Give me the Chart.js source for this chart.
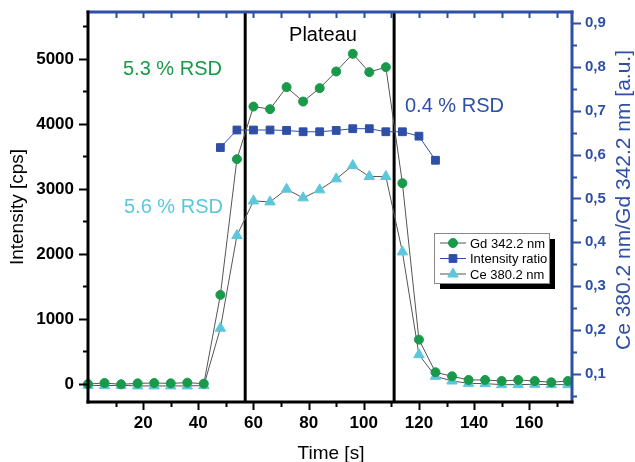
<!DOCTYPE html>
<html><head><meta charset="utf-8">
<script src="https://cdn.jsdelivr.net/npm/chart.js@4/dist/chart.umd.min.js"></script>
<style>html,body{margin:0;padding:0;background:#fff}#wrap{width:635px;height:462px}</style>
</head><body><div id="wrap"><canvas id="c" width="635" height="462"></canvas></div>
<script>
const times = [0,6,12,18,24,30,36,42,48,54,60,66,72,78,84,90,96,102,108,114,120,126,132,138,144,150,156,162,168,174];
const gdValues = [0,15,-5,10,15,10,20,5,1370,3457,4266,4226,4565,4343,4549,4805,5077,4795,4872,3088,682,180,118,62,62,46,62,46,26,46];
const ceValues = [-20,-25,-20,-30,-30,-30,-30,-25,857,2282,2815,2800,2995,2862,2985,3154,3358,3190,3190,2031,451,118,46,10,5,-10,-10,-5,-10,-10];
const ratioTimes = [48,54,60,66,72,78,84,90,96,102,108,114,120,126];
const ratioValues = [0.616,0.656,0.656,0.656,0.655,0.652,0.652,0.655,0.659,0.659,0.652,0.652,0.642,0.587];
const xTicks = [20,40,60,80,100,120,140,160];
const yTicks = [0,1000,2000,3000,4000,5000];
const y2Ticks = [0.1,0.2,0.3,0.4,0.5,0.6,0.7,0.8,0.9];
const plateauBounds = [57,111];
const seriesNames = ['Gd 342.2 nm','Intensity ratio','Ce 380.2 nm'];

const GREEN = '#189a4a', CYAN = '#5cc7db', BLUE = '#2f4fa6', LINE = '#555555';
const FONT = '"Liberation Sans", Arial, sans-serif';

const pts = (xs, ys) => xs.map((x, i) => ({x, y: ys[i]}));

const overlay = {
  id: 'overlay',
  beforeDatasetsDraw(chart) {
    const {ctx, chartArea: a, scales: {x}} = chart;
    ctx.save();
    ctx.strokeStyle = '#000'; ctx.lineWidth = 3;
    plateauBounds.forEach(t => {
      const px = x.getPixelForValue(t);
      ctx.beginPath(); ctx.moveTo(px, a.top); ctx.lineTo(px, a.bottom); ctx.stroke();
    });
    ctx.restore();
  },
  afterDraw(chart) {
    const {ctx, chartArea: a, scales: {x, y, y2}} = chart;
    ctx.save();
    const tick = (x1, y1, x2, y2_, col, w) => { ctx.strokeStyle = col; ctx.lineWidth = w; ctx.beginPath(); ctx.moveTo(x1, y1); ctx.lineTo(x2, y2_); ctx.stroke(); };
    for (let v = 10; v < x.max; v += 10) {
      const px = Math.round(x.getPixelForValue(v)) + 0.5;
      const major = v % 20 === 0;
      tick(px, a.bottom, px, a.bottom + (major ? 8 : 5), '#000', 2);
      tick(px, a.top, px, a.top + 6, BLUE, 2);
    }
    for (let v = 0; v <= y.max; v += 500) {
      const py = Math.round(y.getPixelForValue(v)) + 0.5;
      tick(a.left, py, a.left - (v % 1000 === 0 ? 9 : 5), py, '#000', 2);
    }
    for (let v = 0.05; v <= y2.max; v += 0.05) {
      const py = Math.round(y2.getPixelForValue(v)) + 0.5;
      const major = Math.abs(Math.round(v * 20) % 2) === 0;
      tick(a.right, py, a.right + (major ? 9 : 5), py, BLUE, 2);
    }
    ctx.lineCap = 'square';
    tick(a.left, a.top, a.right, a.top, BLUE, 3);
    tick(a.right, a.top, a.right, a.bottom, BLUE, 3);
    tick(a.left, a.bottom, a.right, a.bottom, '#000', 3);
    tick(a.left, a.top, a.left, a.bottom, '#000', 3);
    ctx.lineCap = 'butt';

    ctx.textAlign = 'center'; ctx.textBaseline = 'middle';
    ctx.fillStyle = '#000';
    ctx.font = '19px ' + FONT;
    ctx.fillText('Time [s]', (a.left + a.right) / 2 + 1, 454);
    ctx.save(); ctx.translate(18, 207); ctx.rotate(-Math.PI / 2);
    ctx.fillText('Intensity [cps]', 0, 0); ctx.restore();
    ctx.save(); ctx.translate(624, 200); ctx.rotate(-Math.PI / 2);
    ctx.fillStyle = BLUE; ctx.font = '21px ' + FONT;
    ctx.fillText('Ce 380.2 nm/Gd 342.2 nm [a.u.]', 0, 0); ctx.restore();

    ctx.font = '20px ' + FONT;
    ctx.fillStyle = '#000'; ctx.fillText('Plateau', 323, 35);
    ctx.textAlign = 'left';
    ctx.fillStyle = GREEN; ctx.fillText('5.3 % RSD', 123, 69);
    ctx.fillStyle = CYAN; ctx.fillText('5.6 % RSD', 124, 207);
    ctx.fillStyle = BLUE; ctx.fillText('0.4 % RSD', 405, 106);

    const lx = 434, ly = 233, lw = 115, lh = 50;
    ctx.fillStyle = '#000'; ctx.fillRect(lx + 6, ly + 6, lw, lh);
    ctx.fillStyle = '#fff'; ctx.fillRect(lx, ly, lw, lh);
    ctx.strokeStyle = '#888'; ctx.lineWidth = 1; ctx.strokeRect(lx + 0.5, ly + 0.5, lw, lh);
    const ds = chart.data.datasets;
    ctx.font = '13px ' + FONT; ctx.textBaseline = 'middle';
    [0, 1, 2].forEach((k, i) => {
      const d = ds[k];
      const cy = ly + 10 + i * 15.5;
      ctx.strokeStyle = d.borderColor; ctx.lineWidth = 1;
      ctx.beginPath(); ctx.moveTo(lx + 6, cy); ctx.lineTo(lx + 32, cy); ctx.stroke();
      ctx.fillStyle = d.pointBackgroundColor; ctx.strokeStyle = d.pointBorderColor;
      Chart.helpers.drawPoint(ctx, {pointStyle: d.pointStyle, radius: d.pointRadius, borderWidth: 1, rotation: 0}, lx + 19, cy);
      ctx.fillStyle = '#000';
      ctx.fillText(seriesNames[k], lx + 36, cy + 1);
    });
    ctx.restore();
  }
};

const noPadV = s => { s.paddingTop = 0; s.paddingBottom = 0; };

new Chart(document.getElementById('c'), {
  type: 'line',
  data: {
    datasets: [
      {label: seriesNames[0], data: pts(times, gdValues), yAxisID: 'y', borderColor: LINE, borderWidth: 1,
       pointStyle: 'circle', pointRadius: 4.5, pointBackgroundColor: GREEN, pointBorderColor: GREEN, pointBorderWidth: 1, clip: false},
      {label: seriesNames[1], data: pts(ratioTimes, ratioValues), yAxisID: 'y2', borderColor: BLUE, borderWidth: 1,
       pointStyle: 'rect', pointRadius: 5.5, pointBackgroundColor: BLUE, pointBorderColor: BLUE, pointBorderWidth: 1, clip: false},
      {label: seriesNames[2], data: pts(times, ceValues), yAxisID: 'y', borderColor: LINE, borderWidth: 1,
       pointStyle: 'triangle', pointRadius: 6, pointBackgroundColor: CYAN, pointBorderColor: CYAN, pointBorderWidth: 1, clip: false}
    ]
  },
  options: {
    responsive: false, animation: false,
    layout: {padding: {top: 12, left: 0, right: 0, bottom: 0}},
    plugins: {legend: {display: false}, tooltip: {enabled: false}},
    scales: {
      x: {type: 'linear', position: 'bottom', min: 0, max: 175.5,
          grid: {display: false, drawTicks: false}, border: {display: false},
          afterBuildTicks: s => { s.ticks = xTicks.map(v => ({value: v})); },
          afterFit: s => { s.height = 60; s.paddingLeft = 0; s.paddingRight = 0; },
          ticks: {padding: 11, color: '#000', font: {family: FONT, size: 17, weight: 'bold'}, maxRotation: 0,
                  callback: v => String(v)}},
      y: {type: 'linear', position: 'left', min: -277, max: 5720,
          grid: {display: false, drawTicks: false}, border: {display: false},
          afterBuildTicks: s => { s.ticks = yTicks.map(v => ({value: v})); },
          afterFit: s => { s.width = 88; noPadV(s); },
          ticks: {padding: 14, color: '#000', font: {family: FONT, size: 17, weight: 'bold'},
                  callback: v => String(v)}},
      y2: {type: 'linear', position: 'right', min: 0.036, max: 0.925,
          grid: {display: false, drawTicks: false}, border: {display: false},
          afterBuildTicks: s => { s.ticks = y2Ticks.map(v => ({value: v})); },
          afterFit: s => { s.width = 63; noPadV(s); },
          ticks: {padding: 13, color: BLUE, font: {family: FONT, size: 15, weight: 'bold'},
                  callback: v => v.toFixed(1).replace('.', ',')}}
    }
  },
  plugins: [overlay]
});
</script>
</body></html>
